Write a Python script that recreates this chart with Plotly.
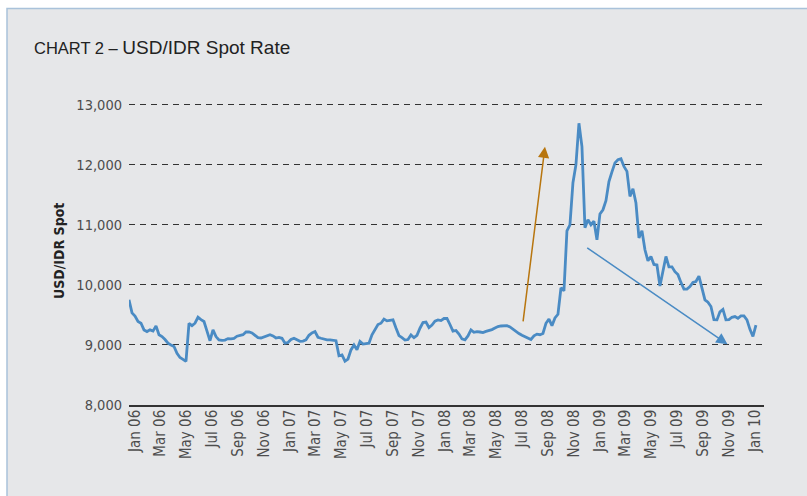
import pandas as pd
import plotly.graph_objects as go

# ---- data (weekly readings of USD/IDR spot) ----
spot_values = [
    9750, 9533, 9480, 9390, 9360, 9250, 9222, 9250, 9230, 9317,
    9170, 9140, 9090, 9028, 9000, 8975, 8860, 8790, 8760, 8725,
    9360, 9320, 9361, 9460, 9420, 9390, 9230, 9070, 9250, 9139,
    9083, 9075, 9080, 9105, 9100, 9110, 9145, 9155, 9170, 9215,
    9215, 9200, 9160, 9120, 9115, 9130, 9150, 9170, 9150, 9115,
    9125, 9110, 9030, 9040, 9090, 9111, 9085, 9060, 9065, 9085,
    9160, 9200, 9222, 9128, 9111, 9095, 9085, 9083, 9078, 9070,
    8820, 8833, 8730, 8765, 8917, 9000, 8920, 9060, 9015, 9020,
    9030, 9167, 9250, 9340, 9361, 9430, 9400, 9405, 9417, 9280,
    9155, 9120, 9080, 9090, 9167, 9120, 9160, 9278, 9372, 9380,
    9290, 9330, 9395, 9415, 9405, 9440, 9440, 9340, 9230, 9240,
    9180, 9100, 9085, 9150, 9250, 9210, 9220, 9215, 9206, 9225,
    9238, 9255, 9280, 9305, 9315, 9320, 9320, 9300, 9260, 9225,
    9190, 9160, 9140, 9115, 9090, 9150, 9180, 9170, 9190, 9360,
    9430, 9320, 9450, 9510, 9950, 9900, 10900, 11000, 11700, 12000,
    12690, 12300, 10950, 11083, 11000, 11060, 10750, 11180, 11250, 11400,
    11720, 11880, 12030, 12083, 12100, 11970, 11889, 11472, 11600, 11361,
    10780, 10900, 10583, 10400, 10472, 10340, 10330, 9980, 10260, 10472,
    10300, 10300, 10220, 10170, 10040, 9930, 9930, 9970, 10040, 10056,
    10145, 9960, 9750, 9710, 9639, 9420, 9417, 9550, 9590, 9417,
    9420, 9460, 9472, 9444, 9483, 9483, 9417, 9260, 9140, 9330,
]
series_start = "2005-12-18"
series_end = "2010-01-03"
dates = pd.date_range(series_start, series_end, periods=len(spot_values))

y_ticks = [8000, 9000, 10000, 11000, 12000, 13000]
title_prefix = "CHART 2 \u2013 "
title_main = "USD/IDR Spot Rate"
y_title = "USD/IDR Spot"

# trend arrows: (tail date, tail value) -> (head date, head value)
up_arrow = {"tail": ("2008-07-03", 9367), "head": ("2008-08-24", 12300)}
down_arrow = {"tail": ("2008-11-28", 10633), "head": ("2009-10-28", 9010)}

LINE_BLUE = "#4a8bc4"
ARROW_ORANGE = "#b8760f"
PANEL = "#e6e7e9"
NARROW = "Liberation Sans Narrow, DejaVu Sans Condensed, Arial Narrow, sans-serif"
WIDE = "Liberation Sans, Arial, sans-serif"

W, H = 807, 496
L, R, T, B = 129, 43, 101, 91
PW, PH = W - L - R, H - T - B


def px_x(px):
    return (px - L) / PW


def px_y(py):
    return (H - B - py) / PH


fig = go.Figure()
fig.add_trace(go.Scatter(
    x=dates, y=spot_values, mode="lines",
    line=dict(color=LINE_BLUE, width=2.8), hoverinfo="skip", showlegend=False,
))

# background panel with thin blue border on top/left
fig.add_shape(type="rect", xref="paper", yref="paper",
              x0=px_x(7), x1=px_x(830), y0=px_y(520), y1=px_y(8.5),
              fillcolor=PANEL, line=dict(color="#a9c2da", width=1.5), layer="below")

for arr, col, size in ((up_arrow, ARROW_ORANGE, 1.5), (down_arrow, LINE_BLUE, 1.5)):
    fig.add_annotation(
        x=arr["head"][0], y=arr["head"][1], ax=arr["tail"][0], ay=arr["tail"][1],
        xref="x", yref="y", axref="x", ayref="y", text="", showarrow=True,
        arrowhead=2, arrowsize=size, arrowwidth=1.5, arrowcolor=col, standoff=0,
    )

fig.add_annotation(
    xref="paper", yref="paper", x=px_x(32), y=px_y(47), xanchor="left", yanchor="middle",
    text=f"<span style='font-size:16.5px'>{title_prefix}</span>{title_main}",
    showarrow=False, font=dict(family=WIDE, size=19, color="#222222"),
)
fig.add_annotation(
    xref="paper", yref="paper", x=px_x(59), y=px_y(251), xanchor="center", yanchor="middle",
    text=y_title, textangle=-90, showarrow=False,
    font=dict(family=NARROW, size=14, color="#222222", weight="bold"),
)

fig.update_layout(
    width=W, height=H, margin=dict(l=L, r=R, t=T, b=B),
    paper_bgcolor="white", plot_bgcolor="rgba(0,0,0,0)",
    font=dict(family=NARROW, size=15, color="#4d4d4d"),
)
fig.update_xaxes(
    type="date", range=["2005-12-18", "2010-01-22"],
    tick0="2006-01-01", dtick="M2", tickformat="%b %y", tickangle=-90,
    showgrid=False, showline=True, linecolor="#333333", linewidth=1.5,
    ticks="", ticklabelstandoff=-3, zeroline=False,
    tickfont=dict(family=NARROW, size=15, color="#4d4d4d"),
)
fig.update_yaxes(
    range=[8000, 13060], tickvals=y_ticks, tickformat=",",
    showgrid=True, gridcolor="#333333", gridwidth=1, griddash="6px,5px",
    zeroline=False, showline=False, ticks="", ticklabelstandoff=6,
    tickfont=dict(family=NARROW, size=14.5, color="#4d4d4d"),
)

fig.write_html("out.html", post_script="document.body.style.margin='0';",
               config={"displayModeBar": False})
